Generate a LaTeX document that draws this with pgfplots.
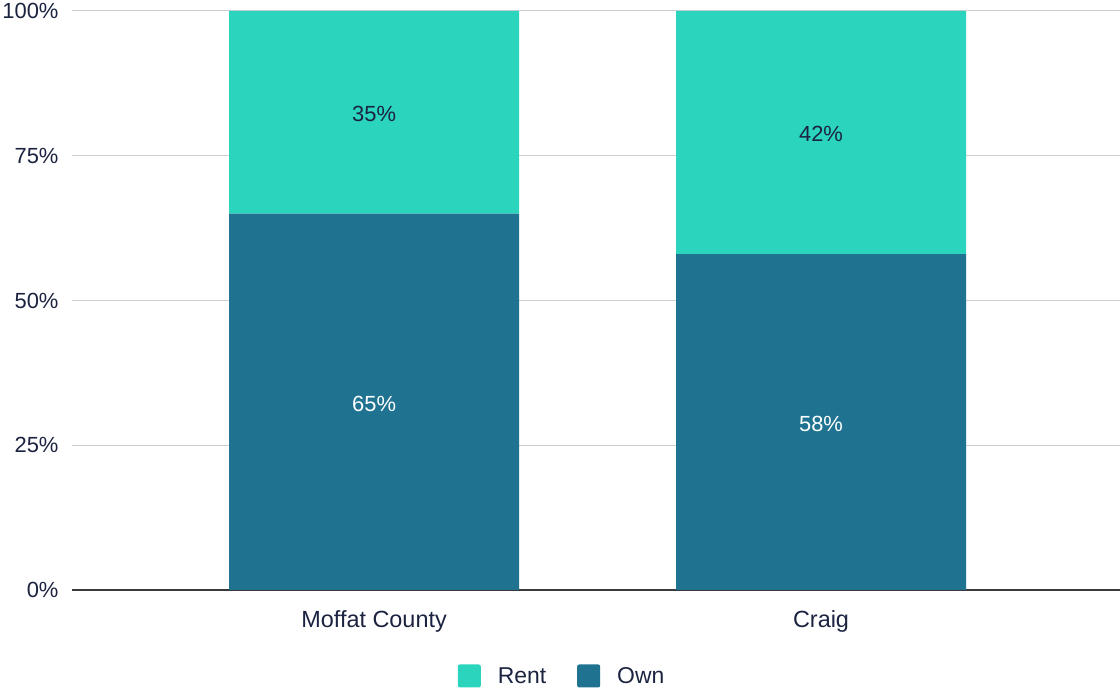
\documentclass[border=0pt]{standalone}
\usepackage{pgfplots}
\pgfplotsset{compat=1.18}
\usepackage{fontspec}
\setmainfont{Liberation Sans}
\definecolor{rent}{HTML}{2AD4BD}
\definecolor{own}{HTML}{1F7391}
\definecolor{txt}{HTML}{1B2340}
\definecolor{gridc}{HTML}{CFCFCF}
\definecolor{axc}{HTML}{3A3A3A}
\begin{document}
\begin{tikzpicture}[x=1bp,y=1bp]
\useasboundingbox (0,0) rectangle (1120,688);
\pgfplotsset{
  common/.style={
    at={(72bp,98bp)}, anchor=south west,
    scale only axis, width=1048bp, height=579bp,
    xmin=-0.676, xmax=1.669, ymin=0, ymax=100,
  }
}
\begin{axis}[
  common,
  ybar stacked, bar width=290bp,
  axis line style={draw=none},
  major tick length=0pt,
  xtick={0,1}, xticklabels={Moffat County, Craig},
  ytick={25,50,75,100}, yticklabels={25\%,50\%,75\%,100\%},
  extra y ticks={0}, extra y tick labels={0\%},
  extra y tick style={grid style={axc, line width=1.3pt}},
  ymajorgrids, grid style={gridc, line width=1pt},
  /pgf/number format/assume math mode=true,
  tick label style={font=\fontsize{22}{26}\selectfont, text=txt},
  yticklabel style={anchor=east, xshift=-10bp},
  xticklabel style={yshift=-17bp, font=\fontsize{23.5}{27}\selectfont},
  reverse legend,
  legend style={draw=none, fill=none, legend columns=2,
    at={(axis description cs:0.4676,-0.1485)}, anchor=center,
    font=\fontsize{23}{27}\selectfont, text=txt,
    /tikz/every odd column/.append style={column sep=15bp},
    /tikz/every even column/.append style={column sep=29bp}},
  legend image code/.code={\fill[#1, draw=none, rounded corners=2pt] (0bp,-11.5bp) rectangle (23bp,11.5bp);},
]
\addplot[fill=own, draw=none] coordinates {(0,65) (1,58)};
\addlegendentry{Own}
\addplot[fill=rent, draw=none] coordinates {(0,35) (1,42)};
\addlegendentry{Rent}
\end{axis}
\begin{axis}[
  common, hide axis,
  every node near coord/.append style={anchor=center, font=\fontsize{22}{26}\selectfont},
]
\addplot[draw=none, mark=none, nodes near coords, point meta=explicit symbolic,
  every node near coord/.append style={text=white}]
  table[meta=lab] {
x y lab
0 32.2 65\%
1 28.7 58\%
};
\addplot[draw=none, mark=none, nodes near coords, point meta=explicit symbolic,
  every node near coord/.append style={text=txt}]
  table[meta=lab] {
x y lab
0 82.2 35\%
1 78.7 42\%
};
\end{axis}
\end{tikzpicture}
\end{document}
